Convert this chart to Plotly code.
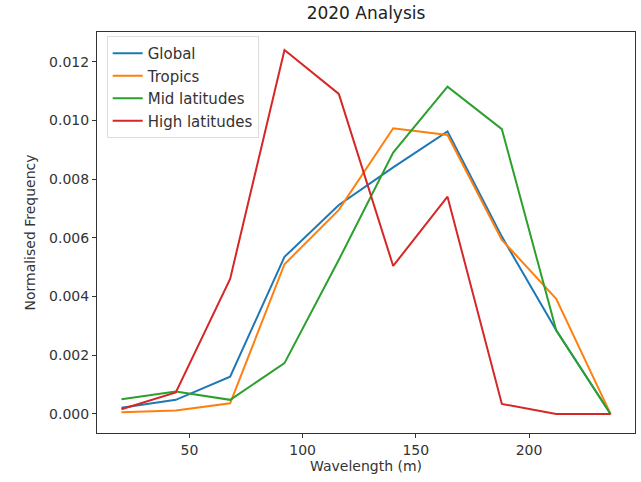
import plotly.graph_objects as go

wavelength = [20, 44, 68, 92, 116, 140, 164, 188, 212, 236]
global_freq = [0.00021, 0.00048, 0.00127, 0.00535, 0.00712, 0.0084, 0.00962, 0.00604, 0.00285, 0.0]
tropics_freq = [0.00006, 0.00012, 0.00036, 0.0051, 0.00695, 0.00973, 0.0095, 0.00593, 0.00392, 0.0]
mid_freq = [0.0005, 0.00076, 0.00048, 0.00173, 0.00525, 0.0089, 0.01115, 0.0097, 0.00285, 0.0]
high_freq = [0.00016, 0.00073, 0.0046, 0.01240, 0.0109, 0.00504, 0.0074, 0.00034, 0.0, 0.0]

series = [
    ("Global", global_freq, "#1f77b4"),
    ("Tropics", tropics_freq, "#ff7f0e"),
    ("Mid latitudes", mid_freq, "#2ca02c"),
    ("High latitudes", high_freq, "#d62728"),
]

fig = go.Figure()
for name, vals, color in series:
    fig.add_trace(go.Scatter(x=wavelength, y=vals, mode="lines", name=name,
                             line=dict(color=color, width=2)))

font_family = "DejaVu Sans"
fs = 14
axis_common = dict(
    showgrid=False, zeroline=False, showline=True, linecolor="#333333", linewidth=1,
    mirror=True, ticks="outside", ticklen=4, tickcolor="#333333",
    tickfont=dict(family=font_family, size=fs, color="#333333"),
)

fig.update_layout(
    width=641, height=482,
    margin=dict(l=97, r=6, t=32, b=49),
    paper_bgcolor="white", plot_bgcolor="white",
    title=dict(text="2020 Analysis", x=0.5, xref="paper", y=0.972, yanchor="middle",
               font=dict(family=font_family, size=17, color="#222222")),
    showlegend=True,
    legend=dict(x=0.018, y=0.99, xanchor="left", yanchor="top",
                bgcolor="rgba(255,255,255,0.8)", bordercolor="#dddddd", borderwidth=1,
                font=dict(family=font_family, size=15, color="#333333"),
                itemwidth=30, tracegroupgap=0),
    xaxis=dict(range=[9.2, 246.8], tickvals=[50, 100, 150, 200],
               title=dict(text="Wavelength (m)", standoff=3,
                          font=dict(family=font_family, size=fs, color="#333333")),
               **axis_common),
    yaxis=dict(range=[-0.00065, 0.01301], tickvals=[0, 0.002, 0.004, 0.006, 0.008, 0.010, 0.012],
               tickformat=".3f",
               title=dict(text="Normalised Frequency", standoff=10,
                          font=dict(family=font_family, size=fs, color="#333333")),
               **axis_common),
)

fig.write_html("out.html")
